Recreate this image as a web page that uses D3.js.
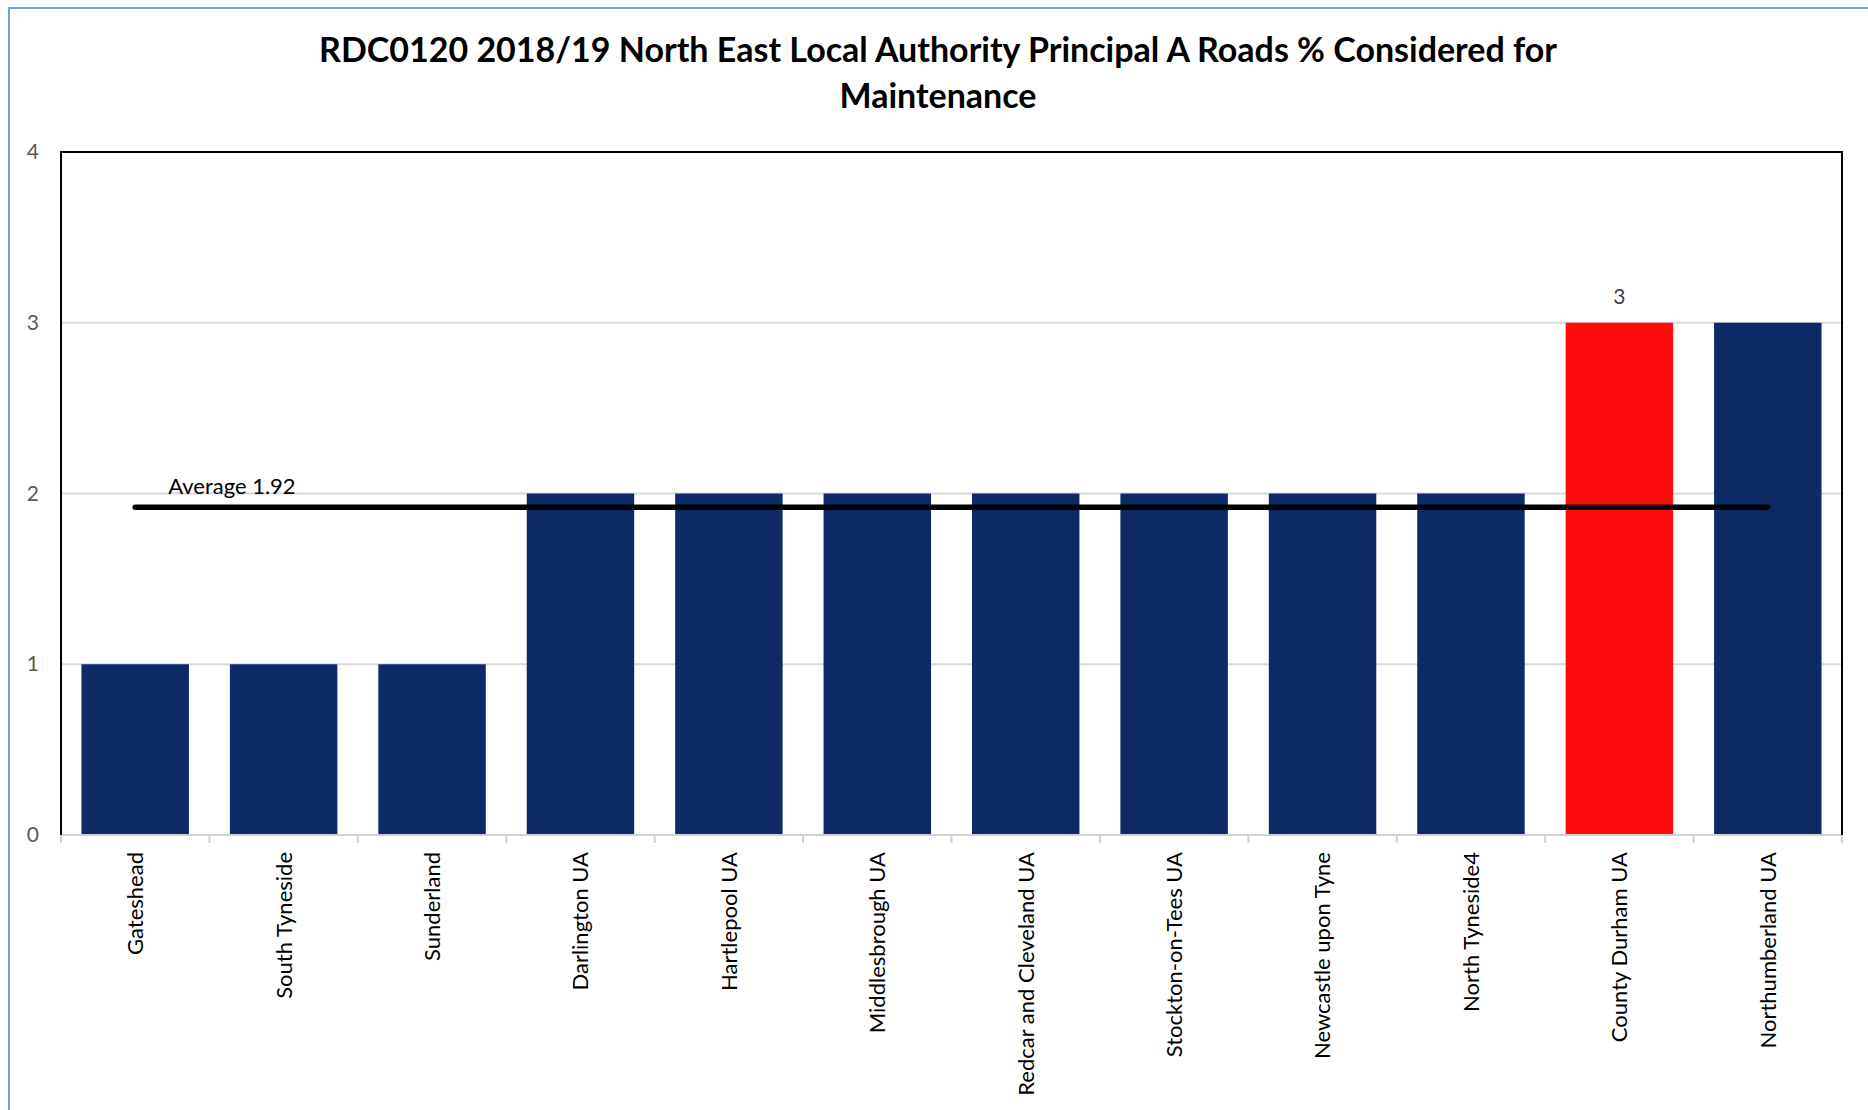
<!DOCTYPE html>
<html>
<head>
<meta charset="utf-8">
<script src="https://d3js.org/d3.v7.min.js"></script>
<style>
  body { margin: 0; background: #fff; }
  text { font-family: Lato, "Open Sans", sans-serif; }
</style>
</head>
<body>
<svg id="chart" width="1868" height="1110"></svg>
<script>
//chart data
var categories = ["Gateshead", "South Tyneside", "Sunderland", "Darlington UA", "Hartlepool UA",
  "Middlesbrough UA", "Redcar and Cleveland UA", "Stockton-on-Tees UA", "Newcastle upon Tyne",
  "North Tyneside4", "County Durham UA", "Northumberland UA"];
var values = [1, 1, 1, 2, 2, 2, 2, 2, 2, 2, 3, 3];
var highlight = "County Durham UA";
var average = 1.92;
var yTicks = [0, 1, 2, 3, 4];
var titleLines = ["RDC0120 2018/19 North East Local Authority Principal A Roads % Considered for", "Maintenance"];

function drawChart() {
  var margin = { top: 152, right: 26, bottom: 275, left: 61 },
    width = 1868 - margin.left - margin.right,
    height = 1110 - margin.top - margin.bottom;

  var svg = d3.select("#chart");

  //outer chart border (only top and left show)
  svg.append("rect")
    .attr("x", 9).attr("y", 8)
    .attr("width", 1900).attr("height", 1200)
    .attr("fill", "none")
    .attr("stroke", "#6fa3dc")
    .attr("stroke-width", 2);

  //title
  svg.append("g").selectAll("text")
    .data(titleLines)
    .enter()
    .append("text")
    .attr("x", 938)
    .attr("y", function(d, i) { return 62 + i * 46; })
    .attr("text-anchor", "middle")
    .attr("font-size", 34)
    .attr("font-weight", "bold")
    .attr("fill", "#000")
    .text(function(d) { return d; });

  var g = svg.append("g").attr("transform", "translate(" + margin.left + "," + margin.top + ")");

  //scales
  var x = d3.scaleBand()
    .domain(categories)
    .range([0, width])
    .paddingInner(0.276)
    .paddingOuter(0.138);
  var y = d3.scaleLinear()
    .domain([0, 4])
    .range([height, 0]);

  //gridlines
  g.selectAll(".grid")
    .data(yTicks.slice(1, 4))
    .enter()
    .append("line")
    .attr("x1", 0).attr("x2", width)
    .attr("y1", function(d) { return y(d); })
    .attr("y2", function(d) { return y(d); })
    .attr("stroke", "#d9d9d9")
    .attr("stroke-width", 2);

  //y axis labels
  var yAxis = d3.axisLeft(y).tickValues(yTicks).tickFormat(d3.format("d")).tickSize(0).tickPadding(22);
  var ya = g.append("g").call(yAxis);
  ya.select(".domain").remove();
  ya.selectAll("text")
    .attr("font-size", 21)
    .attr("fill", "#595959");

  //bars
  g.selectAll(".bars")
    .data(values)
    .enter()
    .append("rect")
    .attr("class", "bars")
    .attr("x", function(d, i) { return x(categories[i]); })
    .attr("y", function(d) { return y(d); })
    .attr("width", x.bandwidth())
    .attr("height", function(d) { return height - y(d); })
    .attr("fill", function(d, i) { return categories[i] == highlight ? "#fe0c0c" : "#0d2a66"; });

  //data label on highlighted bar
  var hi = categories.indexOf(highlight);
  g.append("text")
    .attr("x", x(highlight) + x.bandwidth() / 2)
    .attr("y", y(values[hi]) - 19)
    .attr("text-anchor", "middle")
    .attr("font-size", 21)
    .attr("fill", "#404040")
    .text(values[hi]);

  //x axis with ticks between categories
  var step = x.step();
  g.append("line")
    .attr("x1", 0).attr("x2", width)
    .attr("y1", height).attr("y2", height)
    .attr("stroke", "#d0d0d0")
    .attr("stroke-width", 2);
  g.selectAll(".xtick")
    .data(d3.range(categories.length + 1))
    .enter()
    .append("line")
    .attr("x1", function(d) { return d * step; })
    .attr("x2", function(d) { return d * step; })
    .attr("y1", height).attr("y2", height + 8)
    .attr("stroke", "#d0d0d0")
    .attr("stroke-width", 2);

  //x labels, rotated
  g.selectAll(".xlabel")
    .data(categories)
    .enter()
    .append("text")
    .attr("transform", function(d) {
      return "translate(" + (x(d) + x.bandwidth() / 2) + "," + (height + 17) + ") rotate(-90)";
    })
    .attr("dy", "0.36em")
    .attr("text-anchor", "end")
    .attr("font-size", 22)
    .attr("fill", "#000")
    .text(function(d) { return d; });

  //average line
  var c0 = x(categories[0]) + x.bandwidth() / 2,
    c1 = x(categories[categories.length - 1]) + x.bandwidth() / 2;
  g.append("line")
    .attr("x1", c0).attr("x2", c1)
    .attr("y1", y(average)).attr("y2", y(average))
    .attr("stroke", "#000")
    .attr("stroke-width", 5.5)
    .attr("stroke-linecap", "round");
  g.append("text")
    .attr("x", c0 + 33)
    .attr("y", y(average) - 13)
    .attr("font-size", 22)
    .attr("fill", "#000")
    .text("Average " + average);

  //plot border
  g.append("path")
    .attr("d", "M0," + height + "V0H" + width + "V" + height)
    .attr("fill", "none")
    .attr("stroke", "#000")
    .attr("stroke-width", 2);
}

drawChart();
</script>
</body>
</html>
